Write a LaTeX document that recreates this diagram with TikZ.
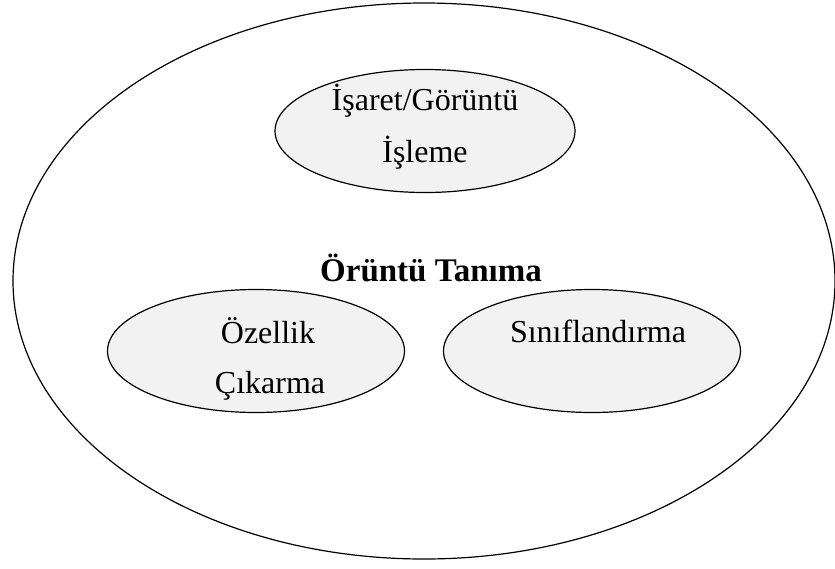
\documentclass[tikz,border=0pt]{standalone}
\usepackage{fontspec}
\setmainfont{Liberation Serif}
\usetikzlibrary{shapes.geometric}

\definecolor{bubblegray}{HTML}{F2F2F2}
\tikzset{
  outerring/.style={ellipse, draw=black, line width=1.2pt, minimum width=822pt, minimum height=556pt, inner sep=0pt},
  topicbubble/.style={ellipse, draw=black, line width=1.2pt, fill=bubblegray, minimum width=300pt, minimum height=123pt, inner sep=0pt},
  label/.style={font=\fontsize{32}{40}\selectfont, inner sep=0pt},
}

\begin{document}
\begin{tikzpicture}[x=1pt,y=-1pt]
  \useasboundingbox (0,0) rectangle (835,568);

  % enclosing field
  \node[outerring] (field) at (424,281) {};

  % three sub-areas
  \node[topicbubble] (signal) at (425,131) {};
  \node[topicbubble, minimum width=297pt] (feature) at (256,351) {};
  \node[topicbubble, minimum width=297pt] (classify) at (592,351) {};

  % texts
  \node[label, font=\fontsize{33}{40}\selectfont\bfseries] (title) at (431,268) {Örüntü Tanıma};
  \node[label] (signalA) at (425,101) {İşaret/Görüntü};
  \node[label] (signalB) at (425,153) {İşleme};
  \node[label] (featureA) at (268,331) {Özellik};
  \node[label] (featureB) at (270,386) {Çıkarma};
  \node[label] (classifyA) at (598,331) {Sınıflandırma};
\end{tikzpicture}
\end{document}
